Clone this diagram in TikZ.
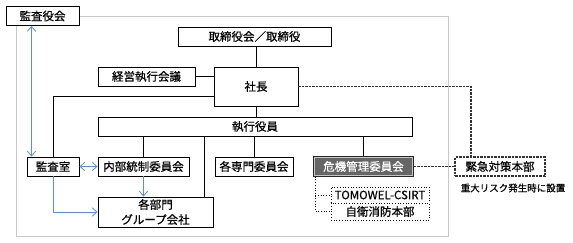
\documentclass[tikz,border=0pt]{standalone}
\usepackage{fontspec}
\setmainfont{Noto Sans CJK JP}[FakeBold=0.6]
\usetikzlibrary{arrows.meta, positioning}
\definecolor{framegray}{HTML}{C8C8C8}
\definecolor{audblue}{HTML}{5B8FD6}
\definecolor{crisisfill}{HTML}{666666}
\definecolor{dashgray}{HTML}{333333}

\begin{document}
\begin{tikzpicture}[
    x=1pt, y=-1pt,
    node distance=10pt and 20pt,
    on grid,
    every node/.style={font=\fontsize{11.5}{15}\selectfont},
    org/.style={rectangle, draw, line width=0.9pt, fill=white, inner sep=1pt,
                minimum height=19pt},
    crisisbox/.style={org, draw=black!85, line width=1.4pt, fill=crisisfill,
                      text=white},
    subbox/.style={rectangle, draw, dotted, line width=0.7pt, fill=white,
                   minimum width=98pt, minimum height=16pt, inner sep=1pt},
    emergbox/.style={rectangle, draw=dashgray, line width=1.2pt,
                     dash pattern=on 2.5pt off 1pt, fill=white, inner sep=1pt,
                     minimum height=19pt},
    note/.style={font=\fontsize{9.5}{11}\selectfont},
    link/.style={line width=0.8pt},
    dashlink/.style={dashgray, line width=1.2pt, dash pattern=on 2.5pt off 1pt},
    dotlink/.style={line width=0.7pt, dotted},
    audarr/.style={audblue, line width=0.8pt,
                   -{Straight Barb[length=1.7mm, width=3mm]}},
    audboth/.style={audblue, line width=0.8pt,
                    {Straight Barb[length=1.7mm, width=3mm]}-{Straight Barb[length=1.7mm, width=3mm]}}
]
    \useasboundingbox (0,0) rectangle (573,242);
    % outer frame of the company
    \draw[framegray, line width=0.8pt] (16,16) rectangle (448,236);

    \node[org, minimum width=73pt]  (kansa)    at (42.5,16)   {監査役会};
    \node[org, minimum width=153pt] (board)    at (254.5,36.5) {取締役会／取締役};
    \node[org, minimum width=84pt, minimum height=39pt] (pres) at (256,86.5) {社長};
    \node[org, minimum width=97pt]  (mgmt)     at (146.5,76.5) {経営執行会議};
    \node[org, minimum width=314pt] (officers) at (255,126.5) {執行役員};
    \node[org, minimum width=52pt]  (audit)    at (53,166.5)  {監査室};
    \node[org, minimum width=91pt, right=90.5pt of audit]   (ictrl)  {内部統制委員会};
    \node[org, minimum width=78pt, right=110.5pt of ictrl]  (spec)   {各専門委員会};
    \node[crisisbox, minimum width=99pt, right=109.5pt of spec] (crisis) {危機管理委員会};
    \node[emergbox, minimum width=90pt, right=136.5pt of crisis] (emerg) {緊急対策本部};
    \node[note, below=21.5pt of emerg, xshift=13pt] (emergnote) {重大リスク発生時に設置};
    \node[org, minimum width=115pt, minimum height=30pt, align=center] (groups)
        at (155.5,212) {各部門\\グループ会社};
    \node[subbox] (csirt) at (380,195) {TOMOWEL-CSIRT};
    \node[subbox, minimum height=17pt, below=16.5pt of csirt] (fire) {自衛消防本部};

    % inner rim of the crisis box
    \draw[gray!45, line width=0.6pt] ([shift={(1.3pt,-1.3pt)}]crisis.north west)
        rectangle ([shift={(-1.3pt,1.3pt)}]crisis.south east);

    % solid reporting lines
    \draw[link] (pres.north) -- (pres.north |- board.south);
    \draw[link] (mgmt.east) -- (mgmt.east -| pres.west);
    \draw[link] ([yshift=-10pt]pres.west) -| (audit.north);
    \draw[link] (pres.south) -- (pres.south |- officers.north);
    \coordinate (gtop) at ([xshift=-9pt]groups.north east);
    \draw[link] (ictrl.north |- officers.south)  -- (ictrl.north);
    \draw[link] (gtop |- officers.south)         -- (gtop);
    \draw[link] (spec.north |- officers.south)   -- (spec.north);
    \draw[link] (crisis.north |- officers.south) -- (crisis.north);

    % emergency lines
    \coordinate (ebend) at ([xshift=-29pt]emerg.north);
    \draw[dashlink] (pres.east) -| (ebend);
    \draw[dashlink] (crisis.east) -- (emerg.west);
    \coordinate (ctap) at ([xshift=2pt]crisis.south west);
    \draw[dotlink] (ctap) |- (fire.west);
    \draw[dotlink] (ctap |- csirt.west) -- (csirt.west);

    % audit lines
    \coordinate (atap) at ([xshift=5pt]audit.north west);
    \draw[audboth] (atap) -- (atap |- kansa.south);
    \draw[audboth] (audit.east) -- (ictrl.west);
    \draw[audarr] (ictrl.south) -- (ictrl.south |- groups.north);
    \draw[audarr] (audit.south) |- (groups.west);
\end{tikzpicture}
\end{document}
